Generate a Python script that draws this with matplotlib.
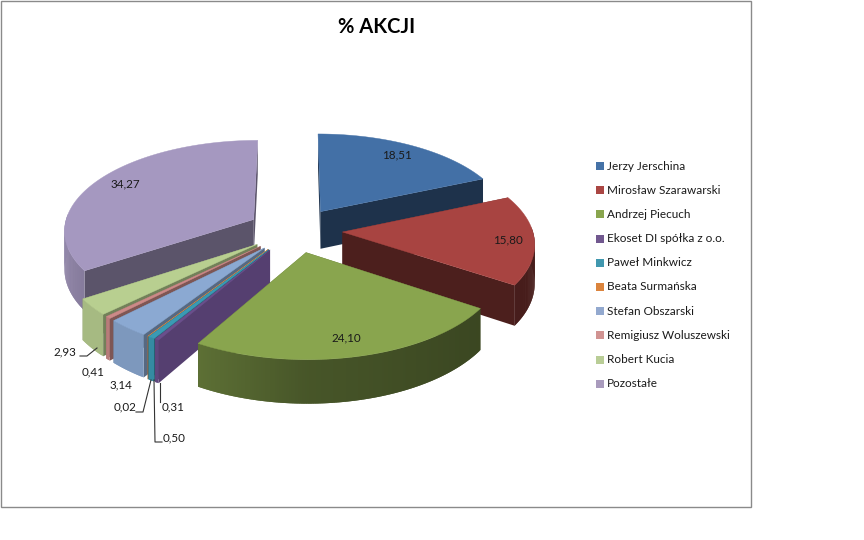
import numpy as np
import matplotlib
matplotlib.use('Agg')
import matplotlib.pyplot as plt
from matplotlib.patches import Rectangle

names = ['Jerzy Jerschina', 'Mirosław Szarawarski', 'Andrzej Piecuch', 'Ekoset DI spółka z o.o.',
         'Paweł Minkwicz', 'Beata Surmańska', 'Stefan Obszarski', 'Remigiusz Woluszewski',
         'Robert Kucia', 'Pozostałe']
values = [18.51, 15.80, 24.10, 0.31, 0.50, 0.02, 3.14, 0.41, 2.93, 34.27]
colors = ['#4370a6', '#a84441', '#89a54e', '#6a4f8c', '#3a9ab4', '#db843d',
          '#8ba9d2', '#cc8a88', '#b8cf90', '#a598c0']
legend_colors = ['#4572a7', '#aa4643', '#89a54e', '#71588f', '#4198af', '#db843d',
                 '#93a9cf', '#d19392', '#b9cd96', '#a99bbd']

# polozenie etykiet w pikselach
label_pos = [(397, 155), (508, 240), (346, 338), (173, 407), (174, 438), (125, 407),
             (121, 385), (93, 372), (65, 352), (125, 184)]
leaders = {3: [(160, 402), (160, 383)],
           4: [(162, 442), (155, 442), (154, 380)],
           5: [(136, 412), (143, 412), (151, 380)],
           8: [(80, 356), (87, 356), (97, 348)]}

# parametry rzutu
cx, cy = 295, 230
A, B = 190, 90
p = 0.11
h = 38
explode = 0.25


def proj(X, Y, z=0):
    s = 1 / (1 + p * Y)
    return cx + A * X * s, cy - B * Y * s + z * h * s


def shade(c, f):
    return tuple(np.array(matplotlib.colors.to_rgb(c)) * f)


def wall_shade(sn, i):
    # male wycinki maja prawie tak jasne sciany jak gora
    if 3 <= i <= 8:
        return 0.9
    return np.interp(sn, [-1, -0.5, 0, 0.9], [0.88, 0.68, 0.52, 0.42])


fig = plt.figure(figsize=(8.64, 5.4), dpi=100)
ax = fig.add_axes([0, 0, 1, 1])
ax.set_xlim(0, 864)
ax.set_ylim(540, 0)
ax.axis('off')
ax.add_patch(Rectangle((1, 1), 750, 506, fc='white', ec='#8a8a8a', lw=1, zorder=0))

ends = np.cumsum(values) / np.sum(values) * 2 * np.pi
starts = ends - np.array(values) / np.sum(values) * 2 * np.pi
mids = (starts + ends) / 2

# rysujemy od tylu do przodu
order = np.argsort(-np.cos(mids))
for rank, i in enumerate(order):
    z = 2 + rank
    t = np.linspace(starts[i], ends[i], max(4, int(values[i] * 6)))
    ox, oy = explode * np.sin(mids[i]), explode * np.cos(mids[i])
    rx, ry = ox + np.sin(t), oy + np.cos(t)
    c = colors[i]
    # sciany boczne od srodka
    for a in (starts[i], ends[i]):
        ex, ey = ox + np.sin(a), oy + np.cos(a)
        xs = [proj(ox, oy, 0), proj(ex, ey, 0), proj(ex, ey, 1), proj(ox, oy, 1)]
        f = 0.45
        if i == 9:
            f = 0.55
        if 4 <= i <= 8:
            f = 0.62
        if i == 3:
            f = 0.8
        ax.fill(*zip(*xs), fc=shade(c, f), lw=0, zorder=z)
    # sciana zewnetrzna, paski zachodza na siebie zeby nie bylo szwow
    for k in range(len(t) - 1):
        if np.cos(t[k]) > 0.05 and np.cos(t[k + 1]) > 0.05:
            continue
        m = min(k + 2, len(t) - 1)
        xs = [proj(rx[k], ry[k], 0), proj(rx[m], ry[m], 0),
              proj(rx[m], ry[m], 1), proj(rx[k], ry[k], 1)]
        ax.fill(*zip(*xs), fc=shade(c, wall_shade(np.sin(t[k]), i)), lw=0, zorder=z)
    # gora
    px, py = proj(np.r_[ox, rx], np.r_[oy, ry])
    ax.fill(px, py, fc=c, ec=c, lw=0.3, zorder=z)

for i, v in enumerate(values):
    ax.text(label_pos[i][0], label_pos[i][1], f'{v:.2f}'.replace('.', ','), fontsize=8.4,
            family='Lato', color='#1a1a1a', ha='center', va='center', zorder=30)
for pts in leaders.values():
    ax.plot(*zip(*pts), color='#333333', lw=0.8, zorder=30)

ax.text(377, 27, '% AKCJI', fontsize=14.5, fontweight='bold', family='Lato',
        ha='center', va='center', color='black')

for i, n in enumerate(names):
    y = 166 + i * 24.2
    ax.add_patch(Rectangle((596, y - 4), 8, 8, fc=legend_colors[i], ec='none'))
    ax.text(607, y, n, fontsize=8.5, family='Lato', va='center', color='#1a1a1a')

fig.savefig('out.png', dpi=100)
